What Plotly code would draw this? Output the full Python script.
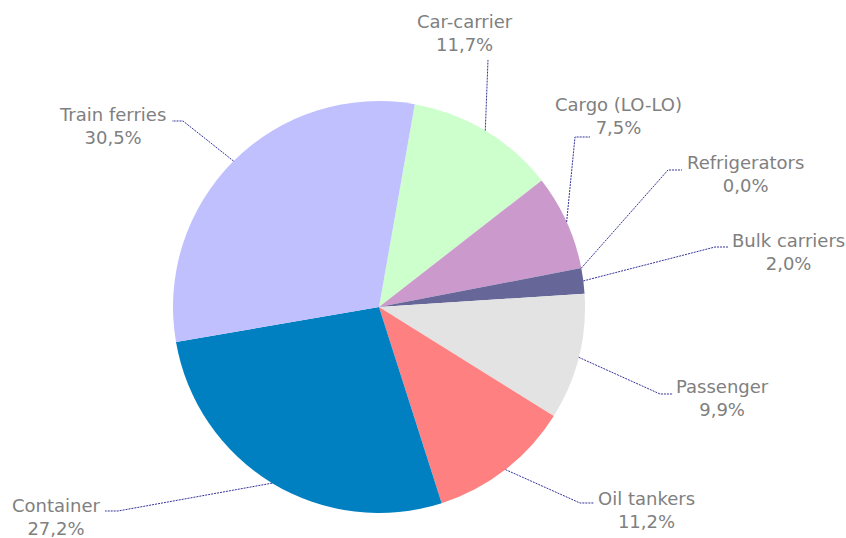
import math
import plotly.graph_objects as go

categories = ["Car-carrier", "Cargo (LO-LO)", "Refrigerators", "Bulk carriers",
              "Passenger", "Oil tankers", "Container", "Train ferries"]
values = [11.7, 7.5, 0.0, 2.0, 9.9, 11.2, 27.2, 30.5]
colors = ["#CCFFCC", "#CC99CC", "#FFFFC0", "#666699",
          "#E3E3E3", "#FF8080", "#0080C0", "#C0C0FF"]

W, H = 846, 538
CX, CY, R = 379, 307, 206
ROTATION = 10

# label text centers (px) and leader-line elbow / end points (px)
label_pos = [(465, 33), (618, 116), (745, 174), (788, 252),
             (722, 398), (646, 510), (56, 517), (112, 126)]
elbows = [(488, 60), (575, 137), (668, 170), (715, 247),
          (660, 394), (580, 503), (118, 511), (183, 121)]
ends = [(488, 60), (590, 137), (682, 170), (728, 247),
        (673, 394), (594, 503), (105, 511), (172, 121)]


def px(x, y):
    return x / W, 1 - y / H


fig = go.Figure(go.Pie(
    labels=categories, values=values, sort=False, direction="clockwise",
    rotation=ROTATION, marker=dict(colors=colors, line=dict(width=0)),
    textinfo="none", hoverinfo="label+percent", showlegend=False,
    domain=dict(x=[(CX - R) / W, (CX + R) / W], y=[1 - (CY + R) / H, 1 - (CY - R) / H]),
))

total = sum(values)
cum = 0.0
shapes, annotations = [], []
for i, (cat, v) in enumerate(zip(categories, values)):
    mid = ROTATION + 360 * (cum + v / 2) / total
    cum += v
    a = math.radians(mid)
    sx, sy = CX + R * math.sin(a), CY - R * math.cos(a)
    pts = [(sx, sy), elbows[i], ends[i]]
    path = "M " + " L ".join("%f,%f" % px(*p) for p in pts)
    shapes.append(dict(type="path", path=path, xref="paper", yref="paper",
                       line=dict(color="#333399", width=1, dash="2px,1px")))
    lx, ly = px(*label_pos[i])
    annotations.append(dict(
        x=lx, y=ly, xref="paper", yref="paper", showarrow=False,
        text="%s<br>%s%%" % (cat, ("%.1f" % v).replace(".", ",")),
        align="center", xanchor="center", yanchor="middle",
        font=dict(family="DejaVu Sans, Verdana, sans-serif", size=18, color="#808080"),
    ))

fig.update_layout(width=W, height=H, margin=dict(l=0, r=0, t=0, b=0),
                  paper_bgcolor="white", plot_bgcolor="white",
                  shapes=shapes, annotations=annotations)
fig.write_html("out.html", config={"displayModeBar": False},
               post_script="document.body.style.margin='0';document.body.style.overflow='hidden';")
